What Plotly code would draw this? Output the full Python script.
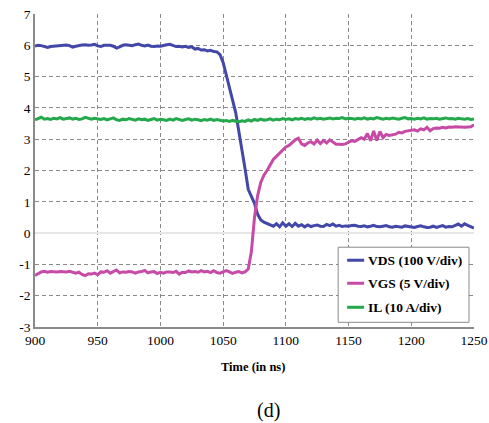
import plotly.graph_objects as go

time_ns = [
    900, 902.5, 905, 907.5, 910, 912.5, 915, 917.5, 920, 922.5,
    925, 927.5, 930, 932.5, 935, 937.5, 940, 942.5, 945, 947.5,
    950, 952.5, 955, 957.5, 960, 962.5, 965, 967.5, 970, 972.5,
    975, 977.5, 980, 982.5, 985, 987.5, 990, 992.5, 995, 997.5,
    1000, 1002.5, 1005, 1007.5, 1010, 1012.5, 1015, 1017.5, 1020, 1022.5,
    1025, 1027.5, 1030, 1032.5, 1035, 1037.5, 1040, 1042.5, 1045, 1047.5,
    1050, 1052.5, 1055, 1057.5, 1060, 1062.5, 1065, 1067.5, 1070, 1072.5,
    1075, 1077.5, 1080, 1082.5, 1085, 1087.5, 1090, 1092.5, 1095, 1097.5,
    1100, 1102.5, 1105, 1107.5, 1110, 1112.5, 1115, 1117.5, 1120, 1122.5,
    1125, 1127.5, 1130, 1132.5, 1135, 1137.5, 1140, 1142.5, 1145, 1147.5,
    1150, 1152.5, 1155, 1157.5, 1160, 1162.5, 1165, 1167.5, 1170, 1172.5,
    1175, 1177.5, 1180, 1182.5, 1185, 1187.5, 1190, 1192.5, 1195, 1197.5,
    1200, 1202.5, 1205, 1207.5, 1210, 1212.5, 1215, 1217.5, 1220, 1222.5,
    1225, 1227.5, 1230, 1232.5, 1235, 1237.5, 1240, 1242.5, 1245, 1247.5,
    1250,
]

vds = [
    5.98, 6.00, 5.99, 5.95, 5.93, 5.96, 5.97, 5.98, 5.97, 6.00,
    6.01, 5.99, 5.94, 5.97, 6.00, 6.01, 6.02, 6.00, 6.01, 6.03,
    5.98, 5.96, 6.00, 6.01, 6.00, 5.97, 5.91, 5.95, 6.00, 6.02,
    6.01, 5.99, 6.02, 6.04, 6.00, 5.98, 6.01, 5.97, 5.96, 5.98,
    5.97, 6.00, 6.02, 6.03, 5.99, 5.96, 5.97, 5.95, 5.97, 5.93,
    5.95, 5.88, 5.90, 5.85, 5.86, 5.82, 5.84, 5.80, 5.79, 5.70,
    5.45, 5.05, 4.65, 4.30, 3.85, 3.25, 2.70, 2.05, 1.40, 1.15,
    0.95, 0.60, 0.42, 0.35, 0.30, 0.25, 0.22, 0.30, 0.20, 0.33,
    0.22, 0.30, 0.21, 0.31, 0.22, 0.27, 0.20, 0.26, 0.21, 0.24,
    0.26, 0.22, 0.21, 0.28, 0.24, 0.29, 0.22, 0.25, 0.21, 0.23,
    0.22, 0.24, 0.25, 0.22, 0.21, 0.23, 0.20, 0.22, 0.25, 0.21,
    0.20, 0.22, 0.24, 0.20, 0.19, 0.22, 0.20, 0.19, 0.23, 0.21,
    0.19, 0.18, 0.21, 0.23, 0.20, 0.18, 0.19, 0.22, 0.18, 0.20,
    0.24, 0.19, 0.21, 0.20, 0.24, 0.29, 0.22, 0.30, 0.25, 0.20,
    0.16,
]

vgs = [
    -1.35, -1.30, -1.24, -1.22, -1.25, -1.23, -1.24, -1.24, -1.23, -1.24,
    -1.24, -1.22, -1.24, -1.28, -1.25, -1.32, -1.36, -1.30, -1.31, -1.28,
    -1.33, -1.24, -1.25, -1.20, -1.28, -1.22, -1.18, -1.27, -1.24, -1.25,
    -1.23, -1.24, -1.28, -1.24, -1.23, -1.19, -1.27, -1.24, -1.23, -1.29,
    -1.25, -1.28, -1.24, -1.24, -1.26, -1.22, -1.31, -1.25, -1.26, -1.21,
    -1.24, -1.23, -1.25, -1.20, -1.24, -1.22, -1.26, -1.20, -1.26, -1.28,
    -1.24, -1.20, -1.24, -1.29, -1.25, -1.23, -1.27, -1.24, -1.15, -0.60,
    0.50, 1.20, 1.62, 1.85, 2.00, 2.20, 2.35, 2.45, 2.55, 2.65,
    2.75, 2.80, 2.90, 2.98, 3.03, 2.85, 2.80, 2.88, 2.92, 2.85,
    2.97, 2.86, 2.96, 2.88, 2.98, 2.92, 2.84, 2.84, 2.83, 2.85,
    2.90, 2.95, 2.93, 2.98, 3.05, 3.00, 3.18, 2.95, 3.26, 2.96,
    3.25, 3.05, 3.15, 3.12, 3.14, 3.16, 3.22, 3.20, 3.25, 3.27,
    3.28, 3.30, 3.26, 3.33, 3.30, 3.38, 3.27, 3.34, 3.36, 3.35,
    3.38, 3.36, 3.39, 3.38, 3.40, 3.39, 3.40, 3.38, 3.39, 3.40,
    3.46,
]

il = [
    3.62, 3.66, 3.70, 3.64, 3.66, 3.63, 3.67, 3.65, 3.69, 3.64,
    3.66, 3.68, 3.64, 3.67, 3.63, 3.65, 3.70, 3.66, 3.64, 3.67,
    3.65, 3.63, 3.66, 3.62, 3.65, 3.68, 3.62, 3.60, 3.64, 3.62,
    3.66, 3.63, 3.61, 3.65, 3.62, 3.64, 3.60, 3.63, 3.66, 3.61,
    3.64, 3.62, 3.60, 3.64, 3.61, 3.66, 3.62, 3.60, 3.63, 3.65,
    3.61, 3.64, 3.62, 3.59, 3.63, 3.61, 3.64, 3.60, 3.63, 3.61,
    3.58, 3.60, 3.57, 3.60, 3.58, 3.55, 3.59, 3.57, 3.62, 3.58,
    3.63, 3.60, 3.64, 3.61, 3.62, 3.65, 3.61, 3.64, 3.62, 3.66,
    3.63, 3.65, 3.62, 3.66, 3.64, 3.67, 3.63, 3.66, 3.64, 3.68,
    3.65, 3.67, 3.64, 3.66, 3.68, 3.65, 3.67, 3.66, 3.69, 3.65,
    3.67, 3.66, 3.64, 3.67, 3.65, 3.68, 3.64, 3.67, 3.65, 3.69,
    3.66, 3.64, 3.67, 3.65, 3.68, 3.66, 3.64, 3.67, 3.69, 3.65,
    3.66, 3.64, 3.67, 3.65, 3.68, 3.64, 3.66, 3.65, 3.67, 3.64,
    3.66, 3.68, 3.65, 3.66, 3.64, 3.67, 3.65, 3.64, 3.66, 3.63,
    3.65,
]

series_names = ["VDS (100 V/div)", "VGS (5 V/div)", "IL (10 A/div)"]
series_colors = ["#4348A8", "#C64AA6", "#23A84C"]
x_ticks = [900, 950, 1000, 1050, 1100, 1150, 1200, 1250]
y_ticks = [-3, -2, -1, 0, 1, 2, 3, 4, 5, 6, 7]

for s in (vds, vgs, il):
    assert len(s) == len(time_ns), (len(s), len(time_ns))

FONT = "Liberation Serif, Times New Roman, serif"
GRID = "#8a8a8a"

fig = go.Figure()
for name, ys, col in zip(series_names, [vds, vgs, il], series_colors):
    fig.add_trace(go.Scatter(x=time_ns, y=ys, mode="lines", name=name,
                             line=dict(color=col, width=3), showlegend=False))

fig.update_layout(
    width=489, height=423, autosize=False,
    margin=dict(l=34.5, r=15, t=14, b=96.3, autoexpand=False),
    paper_bgcolor="white", plot_bgcolor="white",
    font=dict(family=FONT, size=13, color="black"),
    showlegend=False,
    xaxis=dict(
        range=[900, 1250], tickvals=x_ticks, ticktext=[str(v) for v in x_ticks],
        showgrid=True, gridcolor=GRID, griddash="4px,3px", gridwidth=1,
        showline=True, linecolor="#8a8a8a", linewidth=1.5,
        ticks="", zeroline=False, tickfont=dict(size=13.5), automargin=False,
    ),
    yaxis=dict(
        range=[-3, 7], tickvals=y_ticks, ticktext=[str(v) for v in y_ticks],
        showgrid=True, gridcolor=GRID, griddash="4px,3px", gridwidth=1,
        showline=True, linecolor="#8a8a8a", linewidth=1.5,
        ticks="", zeroline=True, zerolinecolor="#e6e6e6", zerolinewidth=2,
        tickfont=dict(size=13.5), automargin=False,
    ),
)

# Legend box drawn as shapes + text (short line samples like the reference)
fig.add_shape(type="rect", xref="paper", yref="paper",
              x0=0.6906, x1=0.9886, y0=0.015, y1=0.2549,
              line=dict(color="#8a8a8a", width=1), fillcolor="white", layer="above")
row_y = [0.2133, 0.1398, 0.0630]
for name, col, yy in zip(series_names, series_colors, row_y):
    fig.add_shape(type="line", xref="paper", yref="paper",
                  x0=0.7110, x1=0.7497, y0=yy, y1=yy,
                  line=dict(color=col, width=3), layer="above")
    fig.add_annotation(text="<b>" + name + "</b>", xref="paper", yref="paper",
                       x=0.7543, y=yy, xanchor="left", yanchor="middle",
                       showarrow=False, font=dict(family=FONT, size=13.5))

fig.add_annotation(text="<b>Time (in ns)</b>", xref="paper", yref="paper",
                   x=0.497, y=-0.129, xanchor="center", yanchor="middle",
                   showarrow=False, font=dict(family=FONT, size=12.5))
fig.add_annotation(text="(d)", xref="paper", yref="paper",
                   x=0.531, y=-0.266, xanchor="center", yanchor="middle",
                   showarrow=False, font=dict(family=FONT, size=20))

fig.write_html(
    "out.html",
    config={"responsive": False, "displayModeBar": False},
    post_script=(
        "document.body.style.margin='0';"
        "document.body.style.padding='0';"
        "document.documentElement.style.overflow='hidden';"
    ),
)
